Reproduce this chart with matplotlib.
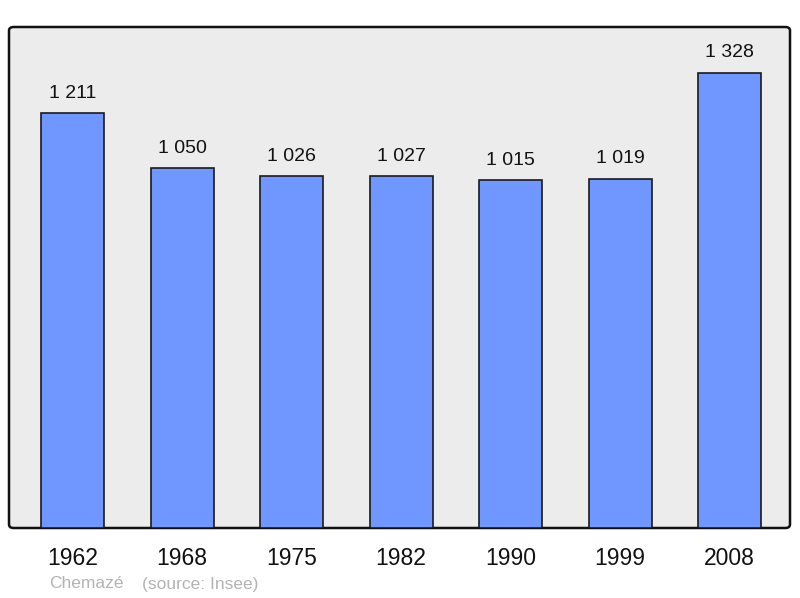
import matplotlib
matplotlib.use('Agg')
from matplotlib import pyplot as plt
from matplotlib.patches import FancyBboxPatch

plt.rcParams['font.family'] = ['Liberation Sans', 'DejaVu Sans']

# données
annees = ['1962', '1968', '1975', '1982', '1990', '1999', '2008']
population = [1211, 1050, 1026, 1027, 1015, 1019, 1328]
etiquettes = ['1 211', '1 050', '1 026', '1 027', '1 015', '1 019', '1 328']
commune = 'Chemazé'
source = '(source: Insee)'

fig = plt.figure(figsize=(8, 5.98), dpi=100)

# cadre gris aux coins arrondis
cadre = FancyBboxPatch((9/800, 70/598), 781/800, 501/598,
                       boxstyle='round,pad=0,rounding_size=0.006',
                       transform=fig.transFigure, facecolor='#ececec',
                       edgecolor='#111111', linewidth=1.8, zorder=0)
fig.patches.append(cadre)

ax = fig.add_axes([9/800, 70/598, 781/800, 501/598])
ax.set_zorder(2)
ax.set_facecolor('none')

x = range(len(annees))
ax.bar(x, population, width=0.575, color='#7097ff', edgecolor='#1a1a1a',
       linewidth=1.2, zorder=2)

for i, (v, lab) in enumerate(zip(population, etiquettes)):
    ax.text(i, v + 45, lab, ha='center', va='baseline', fontsize=14,
            color='#111111')

ax.set_xlim(-0.58, 6.55)
ax.set_ylim(0, 1462)
for s in ax.spines.values():
    s.set_visible(False)
ax.set_yticks([])
ax.set_xticks(list(x))
ax.set_xticklabels(annees, fontsize=16.5, color='#111111')
ax.tick_params(axis='x', length=0, pad=14)

fig.text(49/800, 1 - 584/598, commune, fontsize=12.5, color='#b3b3b3',
         va='center', ha='left')
fig.text(142/800, 1 - 584/598, source, fontsize=12.5, color='#b3b3b3',
         va='center', ha='left')

fig.savefig('out.png', dpi=100)
